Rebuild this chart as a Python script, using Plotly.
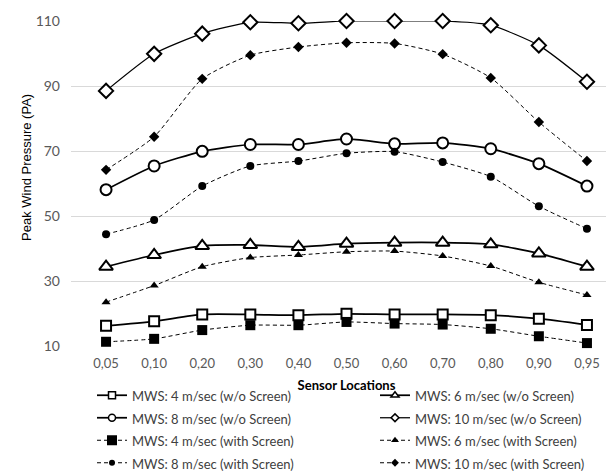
import plotly.graph_objects as go

categories = ["0,05", "0,10", "0,20", "0,30", "0,40", "0,50", "0,60", "0,70", "0,80", "0,90", "0,95"]

mws4_wo = [16.2, 17.6, 19.7, 19.7, 19.5, 19.9, 19.7, 19.7, 19.5, 18.4, 16.5]
mws6_wo = [34.4, 38.0, 40.8, 41.1, 40.5, 41.5, 41.8, 41.8, 41.3, 38.5, 34.4]
mws8_wo = [58.1, 65.4, 69.9, 72.0, 72.0, 73.7, 72.2, 72.5, 70.7, 66.1, 59.2]
mws10_wo = [88.5, 99.9, 106.1, 109.6, 109.3, 110.0, 110.0, 110.0, 108.7, 102.5, 91.3]
mws4_with = [11.3, 12.2, 14.9, 16.4, 16.4, 17.4, 16.9, 16.6, 15.3, 13.0, 10.9]
mws6_with = [23.5, 28.6, 34.4, 37.2, 38.0, 39.0, 39.2, 37.7, 34.6, 29.6, 25.7]
mws8_with = [44.4, 48.8, 59.2, 65.4, 66.9, 69.3, 69.8, 66.6, 62.1, 53.0, 46.1]
mws10_with = [64.2, 74.4, 92.2, 99.5, 102.0, 103.3, 103.1, 99.8, 92.5, 78.9, 66.9]

y_ticks = [10, 30, 50, 70, 90, 110]

# name, values, symbol, plot marker size, legend marker size, dash, line width, legend column
series = [
    ("MWS: 4 m/sec (w/o Screen)", mws4_wo, "square-open", 10, 7, "solid", 1.75, "legend"),
    ("MWS: 6 m/sec (w/o Screen)", mws6_wo, "triangle-up-open", 12, 7, "solid", 1.75, "legend2"),
    ("MWS: 8 m/sec (w/o Screen)", mws8_wo, "circle-open", 11, 7, "solid", 1.75, "legend"),
    ("MWS: 10 m/sec (w/o Screen)", mws10_wo, "diamond-open", 11, 6, "solid", 1.25, "legend2"),
    ("MWS: 4 m/sec (with Screen)", mws4_with, "square", 10, 10, "4px,3px", 1, "legend"),
    ("MWS: 6 m/sec (with Screen)", mws6_with, "triangle-up", 8, 7, "4px,3px", 1, "legend2"),
    ("MWS: 8 m/sec (with Screen)", mws8_with, "circle", 8, 6, "4px,3px", 1, "legend"),
    ("MWS: 10 m/sec (with Screen)", mws10_with, "diamond", 8, 6, "4px,3px", 1, "legend2"),
]


def marker(sym, size, lw_open):
    is_open = sym.endswith("-open")
    return dict(symbol=sym.replace("-open", "") if is_open else sym, size=size,
                color="white" if is_open else "black",
                line=dict(color="black", width=lw_open if is_open else 0))


fig = go.Figure()
for name, vals, sym, size, lsize, dash, lw, leg in series:
    fig.add_trace(go.Scatter(
        x=categories, y=vals, name=name, mode="lines+markers", showlegend=False,
        line=dict(color="black", width=lw, dash=dash, shape="spline", smoothing=0.6),
        marker=marker(sym, size, 2),
        cliponaxis=False,
    ))
# legend entries (smaller symbols, as in the reference legend)
for name, vals, sym, size, lsize, dash, lw, leg in series:
    fig.add_trace(go.Scatter(
        x=[None], y=[None], name="<span style='font-size:13px'>" + name + "</span>",
        mode="lines+markers", showlegend=True, legend=leg,
        line=dict(color="black", width=lw, dash=dash),
        marker=marker(sym, lsize, 1.5),
    ))

leg_top = 1 - 371 / 472
leg_common = dict(orientation="v", xref="container", yref="container", y=leg_top,
                  xanchor="left", yanchor="top", font=dict(size=15, color="#404040"),
                  tracegroupgap=0, bgcolor="rgba(0,0,0,0)")

fig.update_layout(
    width=614, height=472,
    margin=dict(l=63, r=0, t=13, b=134, autoexpand=False),
    paper_bgcolor="white", plot_bgcolor="white",
    font=dict(family="Lato, Open Sans, sans-serif", color="#595959", size=12),
    xaxis=dict(type="category", showgrid=False, showline=False, ticks="",
               ticklabelstandoff=8, automargin=False,
               tickfont=dict(size=13, color="#595959"),
               title=dict(text="<b>Sensor Locations</b>", font=dict(size=13, color="black"), standoff=10)),
    yaxis=dict(range=[10, 110], tickvals=y_ticks, showgrid=True, gridcolor="#d9d9d9", gridwidth=1,
               zeroline=False, showline=False, ticks="", ticklabelstandoff=10, automargin=False,
               tickfont=dict(size=14, color="#595959")),
    legend=dict(x=84 / 614, **leg_common),
    legend2=dict(x=367 / 614, **leg_common),
    annotations=[dict(text="Peak Wind Pressure (PA)", textangle=-90, xref="paper", yref="paper",
                      x=(18 - 63) / 551, y=(338 - 160) / 325, showarrow=False,
                      xanchor="center", yanchor="middle",
                      font=dict(family="Liberation Sans, Arial", size=13, color="black"))],
)

fig.write_html("out.html")
